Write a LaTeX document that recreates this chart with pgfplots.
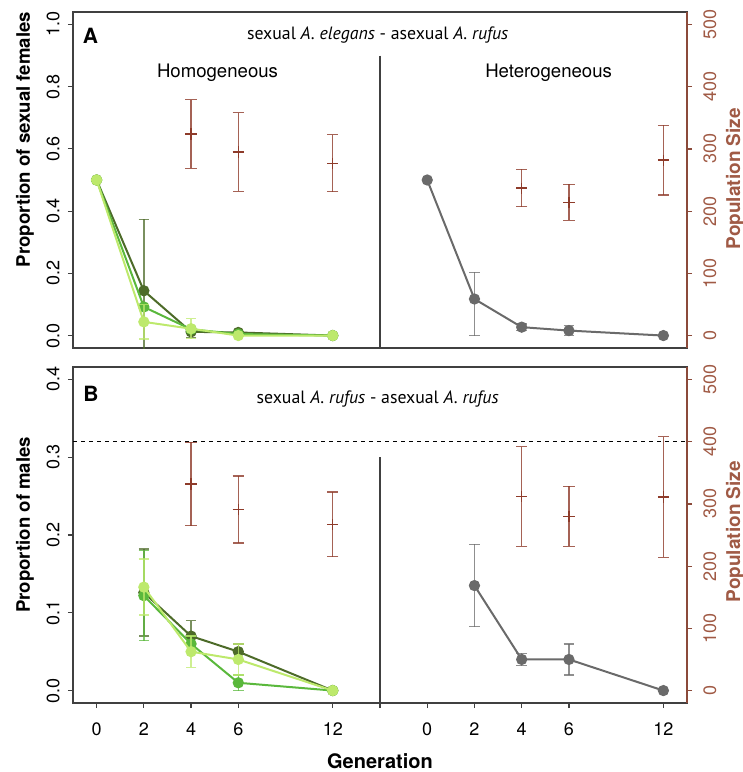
\documentclass[border=0pt]{standalone}
\usepackage{pgfplots}
\pgfplotsset{compat=1.18}
\usepackage{fontspec}
\setmainfont{TeX Gyre Heros}
\newfontfamily\myriad{PT Sans}
\definecolor{dkgreen}{HTML}{4D6B29}
\definecolor{mdgreen}{HTML}{5AB83C}
\definecolor{ltgreen}{HTML}{BDE96C}
\definecolor{grayser}{HTML}{6A6A6A}
\definecolor{brownpt}{HTML}{8E3B2A}
\definecolor{brownax}{HTML}{8B4A3A}
\definecolor{brownlab}{HTML}{A05A45}

\pgfplotsset{
  common/.style={
    scale only axis, width=307pt, height=168pt,
    xmin=-0.5, xmax=12.5,
    tick align=outside, major tick length=2.5pt,
    axis line style={draw=black!75, line width=0.6pt},
    every tick/.style={draw=black!75, line width=0.6pt},
    clip mode=individual,
  },
  leftax/.style={common,
    ytick pos=left,
    yticklabel style={rotate=90, anchor=south, inner sep=0pt, font=\fontsize{9}{9}\selectfont},
    yticklabel shift=4pt,
  },
  rightax/.style={common,
    ymin=-20, ymax=520,
    axis x line=none, axis y line*=right,
    y axis line style={draw=brownax, line width=0.6pt},
    every tick/.style={draw=brownax, line width=0.6pt},
    ytick={0,100,200,300,400,500},
    yticklabels={0,100,200,300,400,500},
    yticklabel style={rotate=90, anchor=north, inner sep=0pt, text=brownlab, font=\fontsize{9}{9}\selectfont},
    yticklabel shift=5.5pt,
  },
  grn/.style={line width=1pt, mark=*, mark size=2.3pt, color=#1, mark options={solid, fill=#1, draw=#1},
    error bars/.cd, y dir=both, y explicit,
    error bar style={color=#1, opacity=0.75, line width=0.7pt},
    error mark options={rotate=90, mark size=2.6pt, color=#1, opacity=0.75, line width=0.7pt}},
  brn/.style={only marks, mark=+, mark size=2.8pt, color=brownpt, mark options={line width=0.7pt},
    error bars/.cd, y dir=both, y explicit,
    error bar style={color=brownpt, opacity=0.8, line width=0.65pt},
    error mark options={rotate=90, mark size=2.8pt, color=brownpt, opacity=0.8, line width=0.65pt}},
}

\begin{document}
\begin{tikzpicture}
\path[use as bounding box] (0,0) rectangle (371.5pt,-386pt);

%% ---------------- Panel A ----------------
\begin{axis}[leftax, name=A, at={(36.5pt,-174pt)}, anchor=south west,
  ymin=-0.04, ymax=1.04,
  xtick=\empty,
  ytick={0,0.2,0.4,0.6,0.8,1.0},
  yticklabels={0.0,0.2,0.4,0.6,0.8,1.0},
]
% homogeneous
\addplot+[grn=dkgreen] coordinates {(0,0.5) +- (0,0) (1,0.144) +- (0,0.23) (2,0.012) +- (0,0.018) (3,0.010) +- (0,0.004) (5,0.0) +- (0,0)};
\addplot+[grn=mdgreen] coordinates {(0,0.5) +- (0,0) (1,0.092) +- (0,0) (2,0.020) +- (0,0.008) (3,0.005) +- (0,0.003) (5,0.0) +- (0,0)};
\addplot+[grn=ltgreen] coordinates {(0,0.5) +- (0,0) (1,0.044) +- (0,0.055) (2,0.022) +- (0,0.032) (3,0.0) +- (0,0.002) (5,0.0) +- (0,0)};
% heterogeneous
\addplot+[grn=grayser] coordinates {(7,0.5) +- (0,0) (8,0.1175) += (0,0.086) -= (0,0.1175) (9,0.027) +- (0,0.010) (10,0.016) +- (0,0.016) (12,0.0) +- (0,0)};
\draw[black!75, line width=0.6pt] (axis cs:6,0.9) -- (axis cs:6,-0.04);
\node[font=\bfseries\fontsize{10.5}{10.5}\selectfont] at (axis cs:-0.13,0.964) {A};
\node[font=\myriad\fontsize{8.9}{8.9}\selectfont] at (axis cs:5.95,0.967) {sexual \textit{A.\ elegans} - asexual \textit{A.\ rufus}};
\node[font=\fontsize{9.3}{9.3}\selectfont] at (axis cs:2.56,0.845) {Homogeneous};
\node[font=\fontsize{9.3}{9.3}\selectfont] at (axis cs:9.57,0.845) {Heterogeneous};
\node[rotate=90, font=\bfseries\fontsize{9.3}{9.3}\selectfont] at ([xshift=-24pt]axis description cs:0,0.62) {Proportion of sexual females};
\end{axis}

\begin{axis}[rightax, at={(36.5pt,-174pt)}, anchor=south west]
\addplot+[brn] coordinates {(2,324) +- (0,55) (3,295) +- (0,63) (5,277) +- (0,46)};
\addplot+[brn] coordinates {(9,237) +- (0,30) (10,214) +- (0,29) (12,282) +- (0,56)};
\node[rotate=90, font=\bfseries\fontsize{9.5}{9.5}\selectfont, text=brownlab] at ([xshift=24pt]axis description cs:1,0.504) {Population Size};
\end{axis}

%% ---------------- Panel B ----------------
\begin{axis}[leftax, name=B, at={(36.5pt,-351.5pt)}, anchor=south west,
  ymin=-0.016, ymax=0.416,
  xtick pos=bottom,
  xtick={0,1,2,3,5,6,7,8,9,10,12},
  xticklabels={0,2,4,6,12,{},0,2,4,6,12},
  xticklabel style={anchor=north, inner sep=0pt, font=\fontsize{9}{9}\selectfont},
  xticklabel shift=7pt,
  ytick={0,0.1,0.2,0.3,0.4},
  yticklabels={0.0,0.1,0.2,0.3,0.4},
]
\addplot+[grn=dkgreen] coordinates {(1,0.126) +- (0,0.056) (2,0.070) +- (0,0.020) (3,0.050) +- (0,0.010) (5,0.0) +- (0,0)};
\addplot+[grn=mdgreen] coordinates {(1,0.122) +- (0,0.058) (2,0.060) +- (0,0.010) (3,0.010) +- (0,0.010) (5,0.0) +- (0,0)};
\addplot+[grn=ltgreen] coordinates {(1,0.133) +- (0,0.036) (2,0.050) +- (0,0.020) (3,0.040) +- (0,0.020) (5,0.0) +- (0,0)};
\addplot+[grn=grayser] coordinates {(8,0.135) +- (0,0.053) (9,0.040) +- (0,0.008) (10,0.040) +- (0,0.020) (12,0.0) +- (0,0)};
\draw[black, dash pattern=on 2pt off 2pt, line width=0.5pt] (axis cs:-0.5,0.32) -- (axis cs:12.5,0.32);
\draw[black!75, line width=0.6pt] (axis cs:6,0.3) -- (axis cs:6,-0.016);
\node[font=\bfseries\fontsize{10.5}{10.5}\selectfont] at (axis cs:-0.12,0.382) {B};
\node[font=\myriad\fontsize{8.9}{8.9}\selectfont] at (axis cs:5.95,0.375) {sexual \textit{A.\ rufus} - asexual \textit{A.\ rufus}};
\node[rotate=90, font=\bfseries\fontsize{9.3}{9.3}\selectfont] at ([xshift=-24pt]axis description cs:0,0.53) {Proportion of males};
\node[font=\bfseries\fontsize{10}{10}\selectfont] at ([yshift=-29pt]axis description cs:0.5,0) {Generation};
\end{axis}

\begin{axis}[rightax, at={(36.5pt,-351.5pt)}, anchor=south west]
\addplot+[brn] coordinates {(2,332) +- (0,67) (3,291) +- (0,54) (5,267) +- (0,52)};
\addplot+[brn] coordinates {(9,312) +- (0,80) (10,280) +- (0,48) (12,311) +- (0,97)};
\node[rotate=90, font=\bfseries\fontsize{9.5}{9.5}\selectfont, text=brownlab] at ([xshift=24pt]axis description cs:1,0.51) {Population Size};
\end{axis}
\end{tikzpicture}
\end{document}
